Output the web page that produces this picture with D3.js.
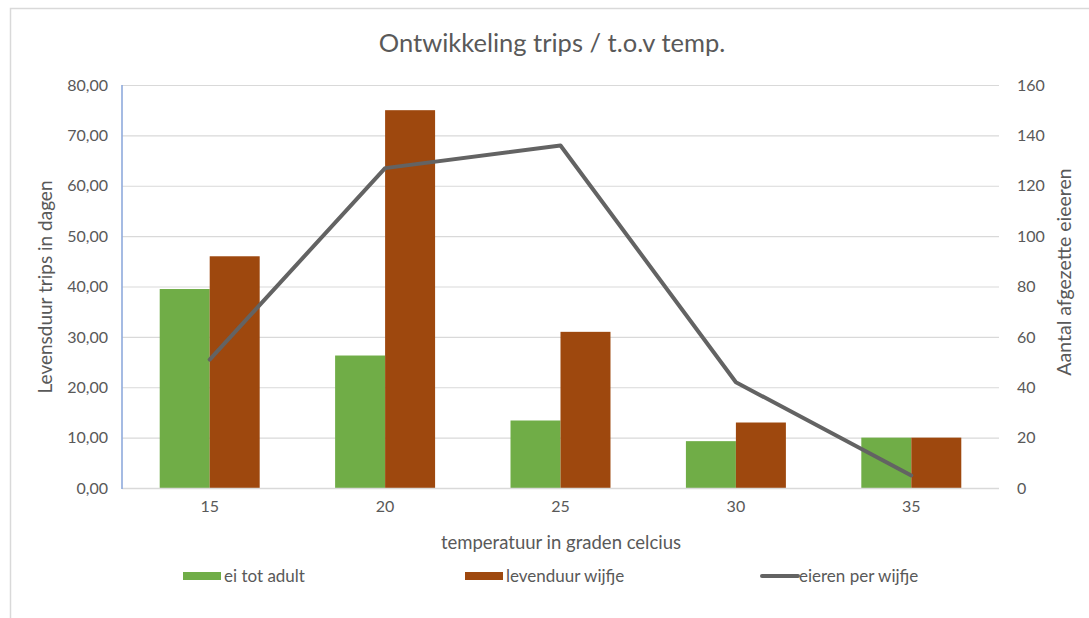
<!DOCTYPE html>
<html><head><meta charset="utf-8">
<script src="https://cdn.jsdelivr.net/npm/d3@7"></script>
<style>body{margin:0;background:#fff} svg{display:block} text{font-family:Lato,"Open Sans",sans-serif;fill:#595959}</style>
</head><body><svg id="c" width="1089" height="618"></svg>
<script>
const categories = ["15", "20", "25", "30", "35"];
const eiTotAdult = [39.5, 26.3, 13.4, 9.3, 10.0];
const levensduurWijfje = [46.0, 75.0, 31.0, 13.0, 10.0];
const eierenPerWijfje = [51, 127, 136, 42, 5];
const leftTicks = [0, 10, 20, 30, 40, 50, 60, 70, 80];
const rightTicks = [0, 20, 40, 60, 80, 100, 120, 140, 160];
const seriesNames = ["ei tot adult", "levenduur wijfje", "eieren per wijfje"];
const titleText = "Ontwikkeling trips / t.o.v temp.";
const xTitle = "temperatuur in graden celcius";
const yLeftTitle = "Levensduur trips in dagen";
const yRightTitle = "Aantal afgezette eieeren";

const colors = {green: "#70ad47", brown: "#9e480e", line: "#636363"};
const svg = d3.select("#c");
const P = {l: 122, r: 999, t: 85, b: 488};

// frame
svg.append("rect").attr("x", 10.5).attr("y", 8.5).attr("width", 1100).attr("height", 640)
  .attr("fill", "#fff").attr("stroke", "#d9d9d9").attr("stroke-width", 1.5);

const x = d3.scaleBand().domain(categories).range([P.l, P.r]).paddingInner(0.43).paddingOuter(0.215);
const xs = d3.scaleBand().domain(["a", "b"]).range([0, x.bandwidth()]);
const yL = d3.scaleLinear().domain([0, 80]).range([P.b, P.t]);
const yR = d3.scaleLinear().domain([0, 160]).range([P.b, P.t]);

// gridlines
svg.append("g").selectAll("line").data(leftTicks.slice(1)).join("line")
  .attr("x1", P.l).attr("x2", P.r).attr("y1", d => yL(d) + 0.5).attr("y2", d => yL(d) + 0.5)
  .attr("stroke", "#d9d9d9").attr("stroke-width", 1.2);

// bars
const rows = categories.map((c, i) => ({c, a: eiTotAdult[i], b: levensduurWijfje[i]}));
const g = svg.append("g");
g.selectAll("rect.a").data(rows).join("rect")
  .attr("x", d => x(d.c) + xs("a")).attr("width", xs.bandwidth())
  .attr("y", d => yL(d.a)).attr("height", d => yL(0) - yL(d.a)).attr("fill", colors.green);
g.selectAll("rect.b").data(rows).join("rect")
  .attr("x", d => x(d.c) + xs("b")).attr("width", xs.bandwidth())
  .attr("y", d => yL(d.b)).attr("height", d => yL(0) - yL(d.b)).attr("fill", colors.brown);

// x axis baseline
svg.append("line").attr("x1", P.l).attr("x2", P.r).attr("y1", P.b + 0.5).attr("y2", P.b + 0.5)
  .attr("stroke", "#d9d9d9").attr("stroke-width", 1.5);

// left axis line
svg.append("line").attr("x1", P.l).attr("x2", P.l).attr("y1", P.t).attr("y2", P.b + 1)
  .attr("stroke", "#8faadc").attr("stroke-width", 1.6);

// line series
const line = d3.line().x((d, i) => x(categories[i]) + x.bandwidth() / 2).y(d => yR(d));
svg.append("path").datum(eierenPerWijfje).attr("d", line).attr("fill", "none")
  .attr("stroke", colors.line).attr("stroke-width", 4).attr("stroke-linejoin", "round").attr("stroke-linecap", "round");

// axes labels
const axL = d3.axisLeft(yL).tickValues(leftTicks).tickSize(0).tickPadding(14)
  .tickFormat(d => d3.format(".2f")(d).replace(".", ","));
const gl = svg.append("g").attr("transform", `translate(${P.l},0)`).call(axL);
gl.select(".domain").remove();
gl.selectAll("text").attr("font-size", 16).attr("fill", "#595959").attr("font-family", "Lato");

const axR = d3.axisRight(yR).tickValues(rightTicks).tickSize(0).tickPadding(18);
const gr = svg.append("g").attr("transform", `translate(${P.r},0)`).call(axR);
gr.select(".domain").remove();
gr.selectAll("text").attr("font-size", 16).attr("fill", "#595959").attr("font-family", "Lato");

const axB = d3.axisBottom(x).tickSize(0).tickPadding(13);
const gb = svg.append("g").attr("transform", `translate(0,${P.b})`).call(axB);
gb.select(".domain").remove();
gb.selectAll("text").attr("font-size", 16).attr("fill", "#595959").attr("font-family", "Lato");

// titles
svg.append("text").attr("x", 552).attr("y", 52).attr("text-anchor", "middle").attr("font-size", 25.5).text(titleText);
svg.append("text").attr("x", 561).attr("y", 549).attr("text-anchor", "middle").attr("font-size", 18.5).text(xTitle);
svg.append("text").attr("transform", "translate(52,287) rotate(-90)").attr("text-anchor", "middle").attr("font-size", 19).text(yLeftTitle);
svg.append("text").attr("transform", "translate(1071,272) rotate(-90)").attr("text-anchor", "middle").attr("font-size", 19.5).text(yRightTitle);

// legend
const leg = [
  {name: seriesNames[0], x: 183, type: "rect", color: colors.green},
  {name: seriesNames[1], x: 465, type: "rect", color: colors.brown},
  {name: seriesNames[2], x: 762, type: "line", color: colors.line}
];
const lg = svg.append("g");
leg.forEach(d => {
  if (d.type === "rect") lg.append("rect").attr("x", d.x).attr("y", 572).attr("width", 38).attr("height", 8).attr("fill", d.color);
  else lg.append("line").attr("x1", d.x).attr("x2", d.x + 36).attr("y1", 576).attr("y2", 576).attr("stroke", d.color).attr("stroke-width", 4).attr("stroke-linecap", "round");
  lg.append("text").attr("x", d.x + (d.type === "line" ? 37 : 41)).attr("y", 582).attr("font-size", 17).text(d.name);
});
</script></body></html>
